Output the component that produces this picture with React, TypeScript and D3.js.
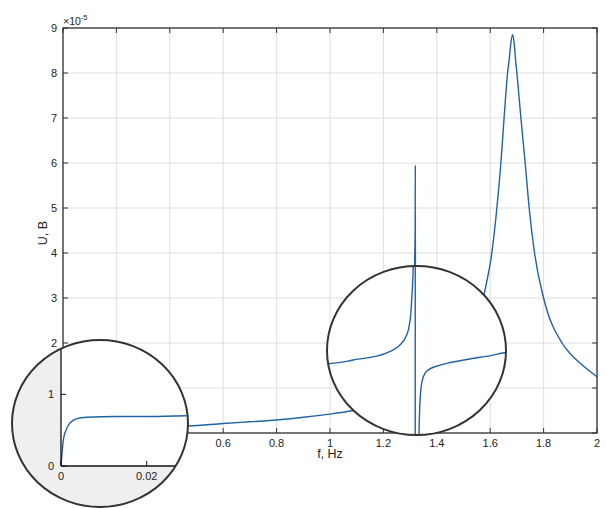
import React from 'react';
import * as d3 from 'd3';

// main response curve, U in units of 1e-5 B
const freq = [0, 0.01, 0.05, 0.1, 0.2, 0.3, 0.4, 0.47, 0.6, 0.7, 0.8, 0.9, 1.0, 1.087, 1.15, 1.2, 1.25, 1.29, 1.31, 1.319, 1.3195, 1.3205, 1.33, 1.36, 1.4, 1.45, 1.5, 1.55, 1.578, 1.606, 1.625, 1.64, 1.652, 1.665, 1.671, 1.677, 1.684, 1.69, 1.695, 1.70, 1.715, 1.731, 1.746, 1.766, 1.8, 1.869, 1.9, 1.937, 2.0];
const volt = [0, 0.08, 0.1, 0.11, 0.12, 0.13, 0.14, 0.155, 0.21, 0.25, 0.29, 0.35, 0.42, 0.5, 0.58, 0.68, 0.85, 1.3, 2.5, 4.5, 5.95, 0, 0.3, 0.7, 0.9, 1.2, 1.6, 2.3, 3.1, 4.0, 5.0, 6.0, 7.0, 8.0, 8.29, 8.65, 8.85, 8.65, 8.29, 8.0, 7.0, 6.0, 5.0, 4.0, 3.0, 2.0, 1.76, 1.55, 1.25];

const xTicks = [0, 0.2, 0.4, 0.6, 0.8, 1, 1.2, 1.4, 1.6, 1.8, 2];
const yTicks = [0, 1, 2, 3, 4, 5, 6, 7, 8, 9];

// left magnifier: start of the curve
const lowF = [0, 0.00054, 0.00117, 0.0021, 0.0037, 0.006, 0.013, 0.0208, 0.0293];
const lowU = [0, 0.36, 0.5, 0.6, 0.66, 0.68, 0.69, 0.69, 0.7];
const lowXTicks = [0, 0.02];
const lowYTicks = [0, 1];

// right magnifier: around the narrow resonance (relative units 0..100)
const zoomLeftX = [0, 2.6, 14.7, 27.8, 37.0, 41.7, 44.9, 46.4, 47.3, 48.0, 48.2, 48.3];
const zoomLeftY = [42.2, 42.4, 44.4, 46.7, 50.3, 54.3, 60.2, 68.0, 79.9, 93.7, 100, 105];
const zoomRightX = [51.3, 51.4, 52.0, 52.9, 54.7, 59.4, 66.9, 79.9, 92.9, 99.1, 102];
const zoomRightY = [-5, 0, 20.7, 30.6, 36.5, 40.1, 42.4, 45.0, 47.3, 48.7, 49.1];
const zoomSpike = 49.3;

const W = 607, H = 508;
const m = { left: 63, right: 597, top: 28, bottom: 433 };
const font = '"Liberation Sans", Arial, sans-serif';
const blue = '#1f63a5';
const dark = '#333';

export default function App() {
  const x = d3.scaleLinear().domain([0, 2]).range([m.left, m.right]);
  const y = d3.scaleLinear().domain([0, 9]).range([m.bottom, m.top]);

  const line = d3.line<number>().x((_, i) => x(freq[i])).y((_, i) => y(volt[i])).curve(d3.curveMonotoneX);
  const mainPath = line(freq) || '';

  // inset 1
  const c1 = { cx: 100, cy: 423.5, rx: 88, ry: 83.5 };
  const inC1 = (px: number, py: number) =>
    ((px - c1.cx) / c1.rx) ** 2 + ((py - c1.cy) / c1.ry) ** 2 < 1;
  const lx = d3.scaleLinear().domain([0, 0.02]).range([61, 146.7]);
  const ly = d3.scaleLinear().domain([0, 1]).range([466, 394.3]);
  const lowPath = d3.line<number>().x((_, i) => lx(lowF[i])).y((_, i) => ly(lowU[i])).curve(d3.curveMonotoneX)(lowF) || '';

  // inset 2
  const c2 = { cx: 416.5, cy: 350.5, rx: 89.5, ry: 84.5 };
  const zx = d3.scaleLinear().domain([0, 100]).range([c2.cx - c2.rx, c2.cx + c2.rx]);
  const zy = d3.scaleLinear().domain([0, 100]).range([c2.cy + c2.ry, c2.cy - c2.ry]);
  const zl = d3.line<number>().x((_, i) => zx(zoomLeftX[i])).y((_, i) => zy(zoomLeftY[i])).curve(d3.curveMonotoneY)(zoomLeftX) || '';
  const zr = d3.line<number>().x((_, i) => zx(zoomRightX[i])).y((_, i) => zy(zoomRightY[i])).curve(d3.curveMonotoneY)(zoomRightX) || '';

  return (
    <svg width={W} height={H} style={{ position: 'absolute', left: 0, top: 0 }} fontFamily={font}>
      <defs>
        <clipPath id="clip1"><ellipse cx={c1.cx} cy={c1.cy} rx={c1.rx} ry={c1.ry} /></clipPath>
        <clipPath id="clip2"><ellipse cx={c2.cx} cy={c2.cy} rx={c2.rx} ry={c2.ry} /></clipPath>
      </defs>
      <rect x={m.left} y={m.top} width={m.right - m.left} height={m.bottom - m.top} fill="#fff" />
      {/* grid */}
      {xTicks.map(t => (
        <line key={'gx' + t} x1={x(t)} x2={x(t)} y1={m.top} y2={m.bottom} stroke="#dedede" />
      ))}
      {yTicks.map(t => (
        <line key={'gy' + t} x1={m.left} x2={m.right} y1={y(t)} y2={y(t)} stroke="#dedede" />
      ))}
      <path d={mainPath} fill="none" stroke={blue} strokeWidth={1.4} />
      {/* frame and ticks */}
      <rect x={m.left} y={m.top} width={m.right - m.left} height={m.bottom - m.top} fill="none" stroke={dark} strokeWidth={1.3} />
      {xTicks.map(t => (
        <g key={'tx' + t}>
          <line x1={x(t)} x2={x(t)} y1={m.bottom} y2={m.bottom - 5} stroke={dark} />
          <line x1={x(t)} x2={x(t)} y1={m.top} y2={m.top + 5} stroke={dark} />
          {!inC1(x(t), 442) && (
            <text x={x(t)} y={446.5} fontSize={11} textAnchor="middle" fill="#222">{t}</text>
          )}
        </g>
      ))}
      {yTicks.map(t => (
        <g key={'ty' + t}>
          <line x1={m.left} x2={m.left + 5} y1={y(t)} y2={y(t)} stroke={dark} />
          <line x1={m.right} x2={m.right - 5} y1={y(t)} y2={y(t)} stroke={dark} />
          {!inC1(54, y(t)) && (
            <text x={57} y={y(t) + 4} fontSize={11} textAnchor="end" fill="#222">{t}</text>
          )}
        </g>
      ))}
      <text x={63} y={25} fontSize={10.5} fill="#222">×10<tspan fontSize={7.5} dy={-5}>-5</tspan></text>
      <text x={330} y={458} fontSize={12.5} textAnchor="middle" fill="#222">f, Hz</text>
      <text transform="translate(47,233) rotate(-90)" fontSize={12.5} textAnchor="middle" fill="#222">U, B</text>

      {/* right magnifier */}
      <g clipPath="url(#clip2)">
        <ellipse cx={c2.cx} cy={c2.cy} rx={c2.rx} ry={c2.ry} fill="#fff" />
        <path d={zl} fill="none" stroke={blue} strokeWidth={1.4} />
        <path d={zr} fill="none" stroke={blue} strokeWidth={1.4} />
        <line x1={zx(zoomSpike)} x2={zx(zoomSpike)} y1={zy(-5)} y2={zy(105)} stroke={blue} strokeWidth={1.4} />
      </g>
      <ellipse cx={c2.cx} cy={c2.cy} rx={c2.rx} ry={c2.ry} fill="none" stroke={dark} strokeWidth={2} />

      {/* left magnifier */}
      <g clipPath="url(#clip1)">
        <ellipse cx={c1.cx} cy={c1.cy} rx={c1.rx} ry={c1.ry} fill="#efefef" />
        <rect x={lx(0)} y={c1.cy - c1.ry} width={c1.rx * 2} height={ly(0) - (c1.cy - c1.ry)} fill="#fff" />
        <path d={lowPath} fill="none" stroke={blue} strokeWidth={1.4} />
        <line x1={lx(0)} x2={lx(0)} y1={c1.cy - c1.ry} y2={ly(0)} stroke="#111" strokeWidth={1.3} />
        <line x1={lx(0)} x2={c1.cx + c1.rx} y1={ly(0)} y2={ly(0)} stroke="#111" strokeWidth={1.3} />
        {lowYTicks.map(t => (
          <g key={'ly' + t}>
            <line x1={lx(0)} x2={lx(0) + 5} y1={ly(t)} y2={ly(t)} stroke="#111" />
            <text x={54} y={ly(t) + 4} fontSize={11} textAnchor="end" fill="#222">{t}</text>
          </g>
        ))}
        {lowXTicks.map(t => (
          <g key={'lx' + t}>
            <line x1={lx(t)} x2={lx(t)} y1={ly(0)} y2={ly(0) - 5} stroke="#111" />
            <text x={lx(t)} y={479.5} fontSize={11} textAnchor="middle" fill="#222">{t}</text>
          </g>
        ))}
      </g>
      <ellipse cx={c1.cx} cy={c1.cy} rx={c1.rx} ry={c1.ry} fill="none" stroke={dark} strokeWidth={2} />
    </svg>
  );
}
